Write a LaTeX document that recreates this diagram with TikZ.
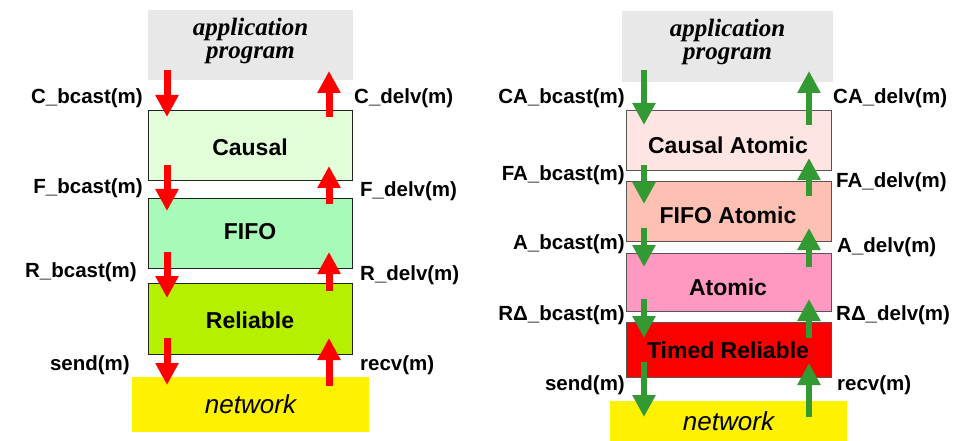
\documentclass[tikz,border=0pt]{standalone}
\usepackage{fontspec}
\setmainfont{Liberation Sans}
\newfontfamily\serifbi{Liberation Serif}
\usetikzlibrary{arrows.meta}
\definecolor{appgray}{HTML}{E8E8E8}
\definecolor{causalg}{HTML}{E2FFD9}
\definecolor{fifog}{HTML}{A8FAB8}
\definecolor{relg}{HTML}{B4F000}
\definecolor{cap}{HTML}{FFE4E4}
\definecolor{fap}{HTML}{FFC0B4}
\definecolor{ap}{HTML}{FF99C2}
\definecolor{trr}{HTML}{FA0000}
\definecolor{arrgreen}{HTML}{339933}
\definecolor{arrred}{HTML}{FF0000}
\definecolor{boxline}{HTML}{555555}
\definecolor{boxlineL}{HTML}{222222}
\tikzset{
  layer/.style={rectangle, draw=boxline, line width=0.8pt, inner sep=0pt},
  layerL/.style={layer, draw=boxlineL},
  appbox/.style={rectangle, fill=appgray, inner sep=0pt},
  apptext/.style={inner sep=0pt, align=center,
    font=\serifbi\bfseries\itshape\fontsize{25}{23}\selectfont},
  netbox/.style={rectangle, fill=yellow, inner sep=0pt, font=\itshape\fontsize{26}{30}\selectfont},
  boxtext/.style={inner sep=0pt, font=\bfseries\fontsize{23}{27}\selectfont},
  port/.style={inner sep=0pt, font=\bfseries\fontsize{20.5}{24}\selectfont},
  redarr/.style={draw=arrred, line width=7pt, -{Triangle[width=22pt,length=22pt]}},
  greenarr/.style={draw=arrgreen, line width=6pt, -{Triangle[width=22pt,length=22pt]}},
}
\begin{document}
\begin{tikzpicture}[x=1pt,y=-1pt]
\useasboundingbox (0,0) rectangle (967,441);
% ---------- left stack ----------
\node[appbox, minimum width=205pt, minimum height=70pt] (appL) at (250.5,45) {};
\node[apptext] (appLT) at (250.5,41) {application\\program};
\node[layerL, fill=causalg, minimum width=204pt, minimum height=70pt] (causal) at (250,145) {};
\node[layerL, fill=fifog, minimum width=204pt, minimum height=70pt] (fifo) at (250,233) {};
\node[layerL, fill=relg, minimum width=204pt, minimum height=71pt] (rel) at (250,318.5) {};
\node[netbox, minimum width=237pt, minimum height=55pt] (netL) at (250.5,404.5) {network};
\node[boxtext] (causalT) at (250,147) {Causal};
\node[boxtext] (fifoT) at (250,232) {FIFO};
\node[boxtext] (relT) at (250,320) {Reliable};
% arrows left
\coordinate (ld1s) at (167,70);  \coordinate (ld1e) at (167,117);
\coordinate (lu1s) at (329,117); \coordinate (lu1e) at (329,71);
\coordinate (ld2s) at (167,165); \coordinate (ld2e) at (167,211);
\coordinate (lu2s) at (329,204); \coordinate (lu2e) at (329,166);
\coordinate (ld3s) at (167,252); \coordinate (ld3e) at (167,298);
\coordinate (lu3s) at (329,291); \coordinate (lu3e) at (329,252);
\coordinate (ld4s) at (167,338); \coordinate (ld4e) at (167,385);
\coordinate (lu4s) at (329,386); \coordinate (lu4e) at (329,338);
\foreach \a in {ld1,lu1,ld2,lu2,ld3,lu3,ld4,lu4} \draw[redarr] (\a s) -- (\a e);
% labels left
\node[port, anchor=east] (lcb) at (143,98) {C\_bcast(m)};
\node[port, anchor=west] (lcd) at (354,98) {C\_delv(m)};
\node[port, anchor=east] (lfb) at (143,188) {F\_bcast(m)};
\node[port, anchor=west] (lfd) at (360,191) {F\_delv(m)};
\node[port, anchor=east] (lrb) at (137,272) {R\_bcast(m)};
\node[port, anchor=west] (lrd) at (360,275) {R\_delv(m)};
\node[port, anchor=east] (lsend) at (130,365) {send(m)};
\node[port, anchor=west] (lrecv) at (360,365) {recv(m)};
% ---------- right stack ----------
\node[appbox, minimum width=211pt, minimum height=71pt] (appR) at (727.5,46.5) {};
\node[apptext] (appRT) at (727.5,42) {application\\program};
\node[layer, fill=cap, minimum width=205pt, minimum height=60pt] (ca) at (728.5,140) {};
\node[layer, fill=fap, minimum width=205pt, minimum height=60pt] (fa) at (728.5,211) {};
\node[layer, fill=ap, minimum width=205pt, minimum height=58pt] (at) at (728.5,282) {};
\node[layer, fill=trr, minimum width=205pt, minimum height=55pt] (tr) at (728.5,349.5) {};
\node[netbox, minimum width=237pt, minimum height=40pt] (netR) at (728.5,421) {network};
\node[boxtext] (caT) at (728,145) {Causal Atomic};
\node[boxtext] (faT) at (728,215) {FIFO Atomic};
\node[boxtext] (atT) at (728,287) {Atomic};
\node[boxtext] (trT) at (728,350) {Timed Reliable};
% arrows right
\coordinate (rd1s) at (644,70);  \coordinate (rd1e) at (644,125);
\coordinate (ru1s) at (809,125); \coordinate (ru1e) at (809,71);
\coordinate (rd2s) at (644,165); \coordinate (rd2e) at (644,204);
\coordinate (ru2s) at (809,196); \coordinate (ru2e) at (809,158);
\coordinate (rd3s) at (644,228); \coordinate (rd3e) at (644,267);
\coordinate (ru3s) at (809,267); \coordinate (ru3e) at (809,228);
\coordinate (rd4s) at (644,299); \coordinate (rd4e) at (644,338);
\coordinate (ru4s) at (809,338); \coordinate (ru4e) at (809,299);
\coordinate (rd5s) at (644,362); \coordinate (rd5e) at (644,417);
\coordinate (ru5s) at (809,417); \coordinate (ru5e) at (809,363);
\foreach \a in {rd1,ru1,rd2,ru2,rd3,ru3,rd4,ru4,rd5,ru5} \draw[greenarr] (\a s) -- (\a e);
% labels right
\node[port, anchor=east] (rcab) at (625,98) {CA\_bcast(m)};
\node[port, anchor=west] (rcad) at (833,98) {CA\_delv(m)};
\node[port, anchor=east] (rfab) at (625,175) {FA\_bcast(m)};
\node[port, anchor=west] (rfad) at (836,182) {FA\_delv(m)};
\node[port, anchor=east] (rab) at (625,244) {A\_bcast(m)};
\node[port, anchor=west] (rad) at (837,247) {A\_delv(m)};
\node[port, anchor=east] (rrb) at (625,315) {RΔ\_bcast(m)};
\node[port, anchor=west] (rrd) at (836,315) {RΔ\_delv(m)};
\node[port, anchor=east] (rsend) at (625,385) {send(m)};
\node[port, anchor=west] (rrecv) at (837,385) {recv(m)};
\end{tikzpicture}
\end{document}
